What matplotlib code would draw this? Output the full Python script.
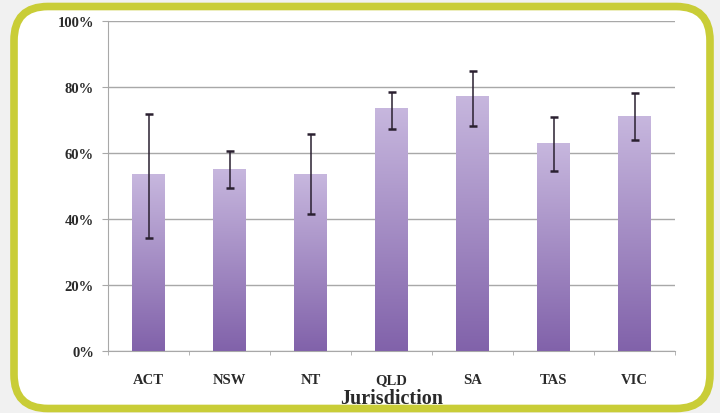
import matplotlib
matplotlib.use("Agg")
import matplotlib.pyplot as plt
import numpy as np
from matplotlib.patches import FancyBboxPatch
from matplotlib.colors import LinearSegmentedColormap

# data (percent)
jurisdictions = ["ACT", "NSW", "NT", "QLD", "SA", "TAS", "VIC"]
values = [53.6, 55.2, 53.6, 73.6, 77.3, 63.0, 71.2]
err_low = [34.2, 49.4, 41.5, 67.3, 68.2, 54.5, 63.9]
err_high = [71.8, 60.6, 65.8, 78.5, 84.8, 70.9, 78.2]
yticks = [0, 20, 40, 60, 80, 100]

BORDER, GRID, BG, TXT = "#c9cd37", "#a8a8a8", "#f1f1f1", "#2a2a2a"
plt.rcParams.update({"font.family": ["Liberation Serif", "DejaVu Serif"]})

fig = plt.figure(figsize=(7.2, 4.14), dpi=100, facecolor=BG)
# rounded white panel with yellow-green frame (inches), kept behind the axes
frame = FancyBboxPatch((0.14, 0.045), 6.96, 4.02, boxstyle="round,pad=0,rounding_size=0.34",
                       transform=fig.dpi_scale_trans, facecolor="white", edgecolor=BORDER,
                       lw=5.5, zorder=-5)
fig.patches.append(frame)

ax = fig.add_axes([0.150, 0.150, 0.7875, 0.797])
ax.set_facecolor("none")
x = np.arange(len(jurisdictions))
bars = ax.bar(x, values, width=0.40, color="none", zorder=3)

cmap = LinearSegmentedColormap.from_list("purp", ["#8162aa", "#c7b7de"])
grad = np.linspace(0, 1, 256).reshape(-1, 1)
for b in bars:
    x0, w, h = b.get_x(), b.get_width(), b.get_height()
    im = ax.imshow(grad, cmap=cmap, origin="lower", aspect="auto",
                   extent=[x0, x0 + w, 0, h], zorder=3)
    im.set_clip_path(b)

lo = np.array(values) - np.array(err_low)
hi = np.array(err_high) - np.array(values)
ax.errorbar(x, values, yerr=[lo, hi], fmt="none", ecolor="#2a2030", elinewidth=1.1,
            capsize=3, capthick=1.8, zorder=4)

ax.set_xlim(-0.5, len(jurisdictions) - 0.5)
ax.set_ylim(0, 100)
ax.set_yticks(yticks)
ax.set_yticklabels([f"{t}%" for t in yticks], fontsize=10.5, fontweight="bold", color=TXT)
# category labels on a shared baseline (Q has a descender)
ax.set_xticks(x)
ax.set_xticklabels([])
ax.tick_params(axis="x", length=0)
for xi, lab in zip(x, jurisdictions):
    ax.text(xi, -0.097, lab, transform=ax.get_xaxis_transform(), ha="center", va="baseline",
            fontsize=10.5, fontweight="bold", color=TXT)
ax.set_xticks(np.arange(len(jurisdictions) + 1) - 0.5, minor=True)
ax.tick_params(axis="x", which="minor", length=3, color=GRID)
ax.tick_params(axis="y", length=4, color=GRID, pad=6)
ax.yaxis.grid(True, color=GRID, lw=1.0, zorder=0)
ax.set_axisbelow(True)
for s in ("top", "right"):
    ax.spines[s].set_visible(False)
for s in ("left", "bottom"):
    ax.spines[s].set_color(GRID)
fig.text(0.544, 0.036, "Jurisdiction", ha="center", va="center", fontsize=14.5,
         fontweight="bold", color=TXT)

fig.savefig("out.png", dpi=100, facecolor=BG)
